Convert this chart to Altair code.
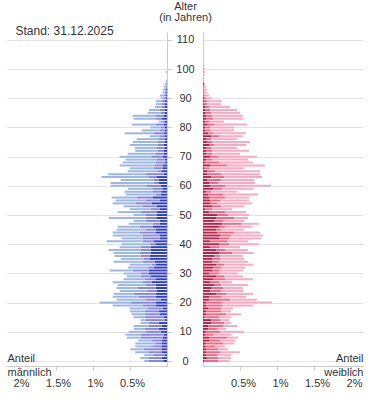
import altair as alt
import pandas as pd

# ---------------- data (share of total population in %) ----------------
ages = list(range(0, 102))

groups = ["Ausländer", "Deutsche mit Migrationshintergrund", "Deutsche ohne Migrationshintergrund"]

m_dark = [0.050, 0.068, 0.027, 0.068, 0.077, 0.068, 0.068, 0.068, 0.058, 0.045,
          0.085, 0.112, 0.072, 0.112, 0.031, 0.045, 0.099, 0.112, 0.058, 0.153,
          0.153, 0.085, 0.153, 0.153, 0.139, 0.153, 0.153, 0.207, 0.153, 0.220,
          0.247, 0.247, 0.180, 0.153, 0.166, 0.234, 0.234, 0.220, 0.220, 0.220,
          0.153, 0.180, 0.099, 0.099, 0.153, 0.153, 0.193, 0.099, 0.099, 0.135,
          0.135, 0.135, 0.099, 0.139, 0.207, 0.099, 0.189, 0.085, 0.077, 0.054,
          0.085, 0.112, 0.112, 0.145, 0.045, 0.077, 0.054, 0.054, 0.031, 0.031,
          0.054, 0.041, 0.041, 0.027, 0.041, 0.027, 0.027, 0.027, 0.041, 0.027,
          0.027, 0.041, 0.027, 0.068, 0.041, 0.027, 0.027, 0.027, 0.027, 0.027,
          0.014, 0.014, 0.014, 0.014, 0.007, 0.004, 0.004, 0.0, 0.0, 0.0,
          0.0, 0.0]
m_mid = [0.203, 0.185, 0.158, 0.185, 0.239, 0.131, 0.091, 0.135, 0.297, 0.311,
         0.203, 0.189, 0.176, 0.135, 0.257, 0.257, 0.203, 0.189, 0.203, 0.176,
         0.338, 0.203, 0.230, 0.297, 0.135, 0.243, 0.135, 0.122, 0.149, 0.135,
         0.108, 0.216, 0.081, 0.054, 0.162, 0.081, 0.122, 0.149, 0.135, 0.135,
         0.081, 0.149, 0.230, 0.230, 0.216, 0.135, 0.176, 0.095, 0.189, 0.153,
         0.153, 0.220, 0.122, 0.185, 0.216, 0.189, 0.220, 0.068, 0.122, 0.135,
         0.193, 0.068, 0.068, 0.108, 0.247, 0.054, 0.126, 0.112, 0.122, 0.112,
         0.158, 0.108, 0.081, 0.108, 0.081, 0.095, 0.081, 0.068, 0.135, 0.068,
         0.054, 0.108, 0.027, 0.081, 0.108, 0.054, 0.068, 0.041, 0.041, 0.041,
         0.027, 0.027, 0.014, 0.014, 0.014, 0.007, 0.004, 0.0, 0.0, 0.004,
         0.0, 0.0]
m_light = [0.054, 0.108, 0.122, 0.176, 0.180, 0.230, 0.270, 0.185, 0.189, 0.203,
           0.230, 0.149, 0.203, 0.108, 0.068, 0.149, 0.176, 0.203, 0.243, 0.405,
           0.419, 0.392, 0.351, 0.270, 0.365, 0.284, 0.378, 0.405, 0.284, 0.189,
           0.230, 0.311, 0.270, 0.297, 0.392, 0.311, 0.351, 0.351, 0.432, 0.284,
           0.378, 0.486, 0.284, 0.405, 0.365, 0.392, 0.297, 0.324, 0.162, 0.500,
           0.162, 0.311, 0.284, 0.261, 0.311, 0.405, 0.338, 0.405, 0.374, 0.342,
           0.482, 0.581, 0.446, 0.631, 0.509, 0.401, 0.324, 0.473, 0.446, 0.415,
           0.428, 0.382, 0.307, 0.301, 0.382, 0.342, 0.301, 0.139, 0.396, 0.247,
           0.145, 0.328, 0.058, 0.301, 0.315, 0.180, 0.149, 0.095, 0.085, 0.085,
           0.045, 0.054, 0.031, 0.027, 0.024, 0.016, 0.009, 0.0, 0.0, 0.014,
           0.0, 0.0]

f_dark = [0.014, 0.054, 0.041, 0.041, 0.041, 0.027, 0.041, 0.081, 0.081, 0.027,
          0.041, 0.068, 0.068, 0.108, 0.108, 0.014, 0.041, 0.041, 0.068, 0.041,
          0.041, 0.081, 0.081, 0.176, 0.095, 0.108, 0.149, 0.095, 0.135, 0.176,
          0.081, 0.122, 0.135, 0.176, 0.122, 0.122, 0.149, 0.216, 0.176, 0.095,
          0.216, 0.095, 0.216, 0.230, 0.189, 0.176, 0.216, 0.257, 0.149, 0.176,
          0.189, 0.081, 0.027, 0.122, 0.095, 0.095, 0.081, 0.068, 0.041, 0.135,
          0.095, 0.081, 0.054, 0.108, 0.054, 0.054, 0.014, 0.095, 0.027, 0.041,
          0.095, 0.041, 0.041, 0.041, 0.081, 0.054, 0.041, 0.108, 0.068, 0.027,
          0.027, 0.054, 0.027, 0.041, 0.041, 0.027, 0.027, 0.027, 0.014, 0.014,
          0.014, 0.007, 0.007, 0.007, 0.004, 0.014, 0.0, 0.0, 0.0, 0.0,
          0.0, 0.0]
f_mid = [0.189, 0.149, 0.149, 0.189, 0.162, 0.135, 0.230, 0.149, 0.243, 0.108,
         0.189, 0.122, 0.203, 0.176, 0.122, 0.203, 0.270, 0.203, 0.176, 0.216,
         0.216, 0.284, 0.162, 0.135, 0.149, 0.162, 0.095, 0.122, 0.162, 0.108,
         0.135, 0.095, 0.108, 0.108, 0.095, 0.108, 0.081, 0.176, 0.122, 0.122,
         0.135, 0.230, 0.135, 0.149, 0.230, 0.068, 0.081, 0.257, 0.122, 0.243,
         0.149, 0.216, 0.095, 0.122, 0.095, 0.135, 0.216, 0.203, 0.068, 0.122,
         0.203, 0.122, 0.189, 0.176, 0.189, 0.108, 0.068, 0.230, 0.189, 0.081,
         0.108, 0.081, 0.081, 0.068, 0.068, 0.068, 0.068, 0.108, 0.068, 0.068,
         0.068, 0.095, 0.054, 0.095, 0.081, 0.081, 0.068, 0.054, 0.041, 0.041,
         0.027, 0.020, 0.014, 0.014, 0.009, 0.007, 0.004, 0.0, 0.007, 0.007,
         0.007, 0.004]
f_light = [0.149, 0.176, 0.189, 0.270, 0.135, 0.135, 0.149, 0.203, 0.149, 0.243,
           0.324, 0.122, 0.189, 0.095, 0.122, 0.162, 0.203, 0.135, 0.162, 0.419,
           0.676, 0.365, 0.338, 0.365, 0.297, 0.270, 0.365, 0.176, 0.378, 0.257,
           0.257, 0.324, 0.324, 0.392, 0.392, 0.324, 0.311, 0.297, 0.311, 0.284,
           0.405, 0.284, 0.432, 0.432, 0.351, 0.311, 0.365, 0.243, 0.284, 0.189,
           0.284, 0.284, 0.270, 0.311, 0.473, 0.392, 0.324, 0.473, 0.351, 0.419,
           0.622, 0.500, 0.446, 0.514, 0.527, 0.608, 0.473, 0.514, 0.459, 0.486,
           0.527, 0.378, 0.500, 0.351, 0.432, 0.514, 0.351, 0.324, 0.446, 0.324,
           0.324, 0.446, 0.203, 0.405, 0.419, 0.392, 0.365, 0.284, 0.189, 0.203,
           0.081, 0.054, 0.034, 0.034, 0.027, 0.007, 0.009, 0.0, 0.014, 0.020,
           0.020, 0.009]

x_ticks = [0.5, 1, 1.5, 2]
age_ticks = list(range(0, 111, 10))
stand_text = ["Stand: 31.12.2025"]

male_colors = ["#2f40bf", "#8787da", "#9db7e2"]
female_colors = ["#b3234b", "#ef6787", "#f9aac0"]


def to_long(dark, mid, light):
    rows = []
    for i, a in enumerate(ages):
        for r, v in enumerate((dark[i], mid[i], light[i])):
            rows.append({"Alter": a, "Gruppe": groups[r], "Rang": r, "Anteil": v})
    return pd.DataFrame(rows)


W, H = 160, 334
XMAX = 2.162
FONT = "Liberation Sans"
TXT = "#333333"
GRID = "#e3e3e3"
LINE = "#cccccc"


def x_axis(label, left):
    return alt.Axis(
        values=x_ticks, labelExpr="datum.value + '%'",
        grid=False, ticks=True, tickSize=4, tickColor=LINE,
        domain=True, domainColor=LINE,
        labelFont=FONT, labelFontSize=11, labelColor=TXT, labelPadding=7,
        labelOffset=2 if left else 3,
        title=["Anteil", label], titleFont=FONT, titleFontSize=11,
        titleFontWeight="normal", titleColor=TXT, titleAngle=0,
        titleX=0 if left else W, titleY=-5,
        titleAlign="left" if left else "right", titleBaseline="alphabetic",
        titleLineHeight=14.5,
    )


y_axis_left = alt.Axis(
    orient="right", values=age_ticks, grid=True, gridColor=GRID,
    domain=True, domainColor=LINE, ticks=True, tickSize=5, tickColor=LINE,
    labelAlign="center", labelBaseline="middle", labelPadding=13,
    labelFont=FONT, labelFontSize=11, labelColor=TXT,
    title=["Alter", "(in Jahren)"], titleAngle=0, titleX=18, titleY=-22.7,
    titleAlign="center", titleBaseline="alphabetic", titleLineHeight=11.5,
    titleFont=FONT, titleFontSize=11, titleFontWeight="normal", titleColor=TXT,
)

y_axis_right = alt.Axis(
    orient="left", values=age_ticks, grid=True, gridColor=GRID,
    domain=True, domainColor=LINE, ticks=False, labels=False, title=None,
)


def bars(df, colors, left, label, yaxis):
    return alt.Chart(df).mark_bar(orient="horizontal", size=2).encode(
        x=alt.X("Anteil:Q", stack="zero",
                scale=alt.Scale(domain=[0, XMAX], nice=False, reverse=left),
                axis=x_axis(label, left)),
        y=alt.Y("Alter:Q", scale=alt.Scale(domain=[0, 111], nice=False), axis=yaxis),
        color=alt.Color("Gruppe:N", scale=alt.Scale(domain=groups, range=colors), legend=None),
        order=alt.Order("Rang:Q", sort="ascending"),
    )


stand = alt.Chart(pd.DataFrame({"t": stand_text})).mark_text(
    align="left", baseline="alphabetic", font=FONT, fontSize=12, color=TXT
).encode(text="t:N", x=alt.value(8.5), y=alt.value(3))

left_panel = alt.layer(
    bars(to_long(m_dark, m_mid, m_light), male_colors, True, "männlich", y_axis_left),
    stand,
).properties(width=W, height=H)

right_panel = bars(to_long(f_dark, f_mid, f_light), female_colors, False, "weiblich",
                   y_axis_right).properties(width=W, height=H)

chart = alt.hconcat(left_panel, right_panel, spacing=36, bounds="flush").resolve_scale(
    x="independent", color="independent"
).configure_view(stroke=None).properties(
    padding={"left": 7, "top": 0, "right": 5, "bottom": 5}, background="white"
)

chart.save("out.html", embed_options={"renderer": "svg", "actions": False})
